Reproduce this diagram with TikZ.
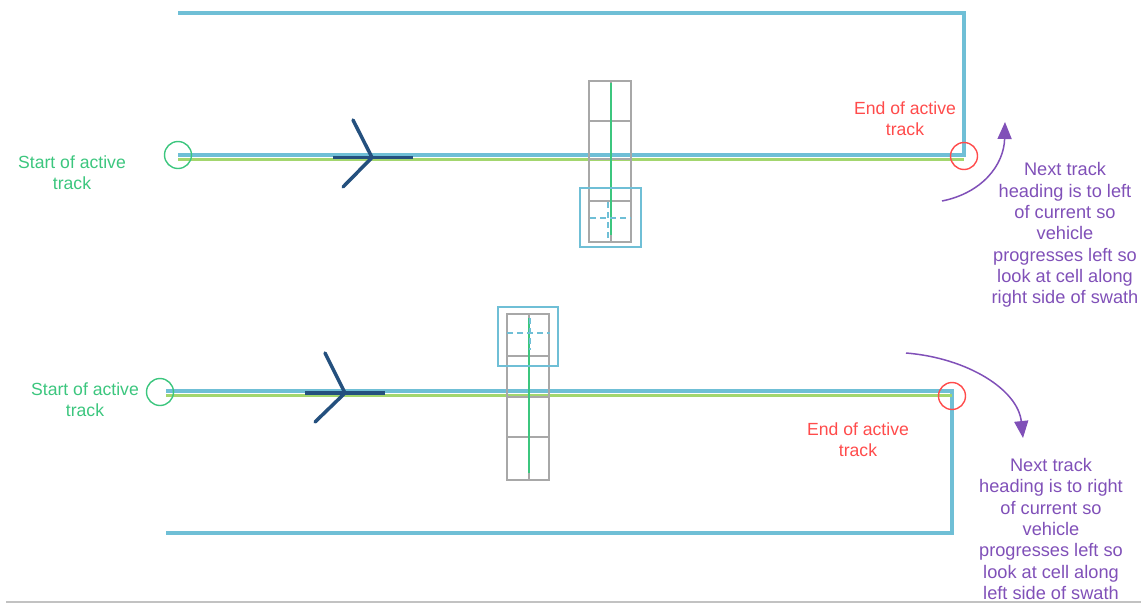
\documentclass[tikz,border=0pt]{standalone}
\usepackage{fontspec}
\setmainfont{Liberation Sans}
\usetikzlibrary{arrows.meta}
\definecolor{swath}{HTML}{6FBFD6}
\definecolor{trackgreen}{HTML}{A3D66E}
\definecolor{startgreen}{HTML}{3CC67E}
\definecolor{endred}{HTML}{FF4B4B}
\definecolor{notepurple}{HTML}{8050B8}
\definecolor{chevron}{HTML}{24507E}
\definecolor{cellgray}{HTML}{A8A8A8}
\tikzset{
  swathline/.style={draw=swath, line width=3.5pt},
  trackline/.style={draw=trackgreen, line width=3pt},
  marker/.style={circle, draw, line width=1.4pt, minimum size=27pt, inner sep=0pt},
  startlabel/.style={text=startgreen, align=center, font=\fontsize{17.6}{21}\selectfont},
  endlabel/.style={text=endred, align=center, font=\fontsize{17.6}{21}\selectfont},
  note/.style={text=notepurple, align=center, font=\fontsize{18.2}{21.3}\selectfont},
  heading/.style={draw=chevron, line width=3.5pt},
  cell/.style={draw=cellgray, line width=1.2pt},
  cellaxis/.style={draw=startgreen, line width=1.2pt},
  focusbox/.style={draw=swath, line width=1.4pt},
  focuscross/.style={draw=swath, line width=1.6pt, dash pattern=on 6pt off 4pt},
  turn/.style={draw=notepurple, line width=1.5pt, -{Triangle[length=17pt,width=14pt]}}
}
\begin{document}
\begin{tikzpicture}[x=1pt, y=-1pt]
\useasboundingbox (0,0) rectangle (1141,603);

% ---------- upper case: next track on the left ----------
\coordinate (ta) at (178,155);
\coordinate (tb) at (964,155);
\coordinate (tc) at (964,13);
\coordinate (td) at (178,13);
\draw[swathline] (ta) -- (tb) -- (tc) -- (td);
\draw[trackline] ([yshift=-4pt]ta) -- ([yshift=-4pt]tb);

% heading chevron
\coordinate (hA) at (372,157.5);
\coordinate (hA1) at (333,157.5);
\coordinate (hA2) at (413,157.5);
\coordinate (hA3) at (353,120);
\coordinate (hA4) at (343,187);
\draw[heading] (hA1) -- (hA2);
\draw[heading, line cap=round] (hA3) -- (hA) -- (hA4);

% cells across the swath
\draw[cell] (589,81) rectangle (631,242);
\draw[cell] (589,121) -- (631,121) (589,159) -- (631,159) (589,201) -- (631,201);
\draw[cell] (611,81) -- (611,242);
\draw[cellaxis] (611,83) -- (611,235);
\node[focusbox, minimum width=61pt, minimum height=59pt, inner sep=0pt] (fA) at (610.5,217.5) {};
\draw[focuscross] (590,218) -- (631,218);
\draw[focuscross] (608,202) -- (608,242);

\node[marker, draw=startgreen] (sA) at (ta) {};
\node[marker, draw=endred] (eA) at (964,156) {};

\node[startlabel] (lsA) at (72,173) {Start of active\\track};
\node[endlabel] (leA) at (905,119) {End of active\\track};

\coordinate (rA0) at (942,201);
\coordinate (rA1) at (1005,122);
\draw[turn] (rA0) .. controls (982,193) and (1004,165) .. (rA1);
\node[note] (nA) at (1065,235) {Next track\\heading is to left\\of current so\\vehicle\\progresses left so\\look at cell along\\right side of swath};

% ---------- lower case: next track on the right ----------
\coordinate (ba) at (166,391);
\coordinate (bb) at (952,391);
\coordinate (bc) at (952,533);
\coordinate (bd) at (166,533);
\draw[swathline] (ba) -- (bb) -- (bc) -- (bd);
\draw[trackline] ([yshift=-4pt]ba) -- ([yshift=-4pt]bb);

\coordinate (hB) at (345,393);
\coordinate (hB1) at (305,393);
\coordinate (hB2) at (385,393);
\coordinate (hB3) at (325,353);
\coordinate (hB4) at (315,422);
\draw[heading] (hB1) -- (hB2);
\draw[heading, line cap=round] (hB3) -- (hB) -- (hB4);

\draw[cell] (507,314) rectangle (549,480);
\draw[cell] (507,356) -- (549,356) (507,397) -- (549,397) (507,437) -- (549,437);
\draw[cell] (529,314) -- (529,480);
\draw[cellaxis] (529,318) -- (529,473);
\node[focusbox, minimum width=60pt, minimum height=59pt, inner sep=0pt] (fB) at (528,336.5) {};
\draw[focuscross] (507,333) -- (550,333);
\draw[focuscross] (530,318) -- (530,350);

\node[marker, draw=startgreen] (sB) at (160,392) {};
\node[marker, draw=endred] (eB) at (952,396) {};

\node[startlabel] (lsB) at (85,400) {Start of active\\track};
\node[endlabel] (leB) at (858,440) {End of active\\track};

\coordinate (rB0) at (906,353);
\coordinate (rB1) at (1023,438);
\draw[turn] (rB0) .. controls (968,358) and (1018,390) .. (rB1);
\node[note] (nB) at (1051,529) {Next track\\heading is to right\\of current so\\vehicle\\progresses left so\\look at cell along\\left side of swath};

% page rule along the foot
\coordinate (f0) at (6,601.5);
\coordinate (f1) at (1141,601.5);
\draw[draw=cellgray!70, line width=2pt] (f0) -- (f1);
\end{tikzpicture}
\end{document}
